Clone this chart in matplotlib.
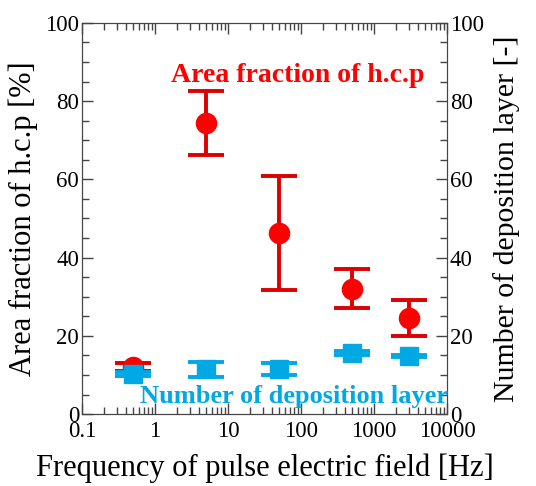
import matplotlib
matplotlib.use('Agg')
import matplotlib.pyplot as plt
from matplotlib.ticker import MultipleLocator, NullFormatter

plt.rcParams['font.family'] = ['Liberation Serif', 'DejaVu Serif']

# frequency [Hz]
freq = [0.5, 5, 50, 500, 3000]
# area fraction of h.c.p [%]
hcp = [12.0, 74.5, 46.3, 32.0, 24.5]
hcp_err = [1.0, 8.2, 14.5, 5.0, 4.6]
# number of deposition layer [-]
layers = [10.2, 11.4, 11.5, 15.6, 14.8]
layers_err = [0.5, 2.0, 1.5, 0.4, 0.3]

red = '#ff0000'
red_bar = '#dd0000'
blue = '#00a8e4'

fig = plt.figure(figsize=(5.36, 4.86), dpi=100)
ax = fig.add_axes([0.153, 0.148, 0.681, 0.805])
ax2 = ax.twinx()

ax.errorbar(freq, hcp, yerr=hcp_err, fmt='o', color=red, ms=14.5, ecolor=red_bar,
            elinewidth=2.8, capsize=13, capthick=2.8, zorder=3)
ax2.errorbar(freq, layers, yerr=layers_err, fmt='s', color=blue, ms=13.5, ecolor=blue,
             elinewidth=2.8, capsize=13, capthick=2.8, zorder=3)

ax.set_xscale('log')
ax.set_xlim(0.1, 10000)
ax.set_ylim(0, 100)
ax2.set_ylim(0, 100)
ax.set_xticks([0.1, 1, 10, 100, 1000, 10000])
ax.set_xticklabels(['0.1', '1', '10', '100', '1000', '10000'])
ax.xaxis.set_minor_formatter(NullFormatter())

for a in (ax, ax2):
    a.yaxis.set_major_locator(MultipleLocator(20))
    a.yaxis.set_minor_locator(MultipleLocator(5))
    a.tick_params(which='both', direction='in', labelsize=16.5, width=1, color='#444444')
    a.tick_params(which='major', length=8)
    a.tick_params(which='minor', length=5)
    for s in a.spines.values():
        s.set_color('#444444')
ax.tick_params(axis='x', which='both', top=True, pad=5)
ax.tick_params(axis='y', pad=2)
ax2.tick_params(axis='y', pad=2)

ax.set_xlabel('Frequency of pulse electric field [Hz]', fontsize=22, labelpad=8)
ax.set_ylabel('Area fraction of h.c.p [%]', fontsize=22, labelpad=5)
ax2.set_ylabel('Number of deposition layer [-]', fontsize=21.5, labelpad=7)

ax.text(0.59, 0.865, 'Area fraction of h.c.p', transform=ax.transAxes, ha='center',
        va='center', color=red, fontsize=20, fontweight='bold', zorder=5)
ax2.text(0.58, 0.045, 'Number of deposition layer', transform=ax.transAxes, ha='center',
         va='center', color=blue, fontsize=19, fontweight='bold', zorder=5)

fig.savefig('out.png', dpi=100)
